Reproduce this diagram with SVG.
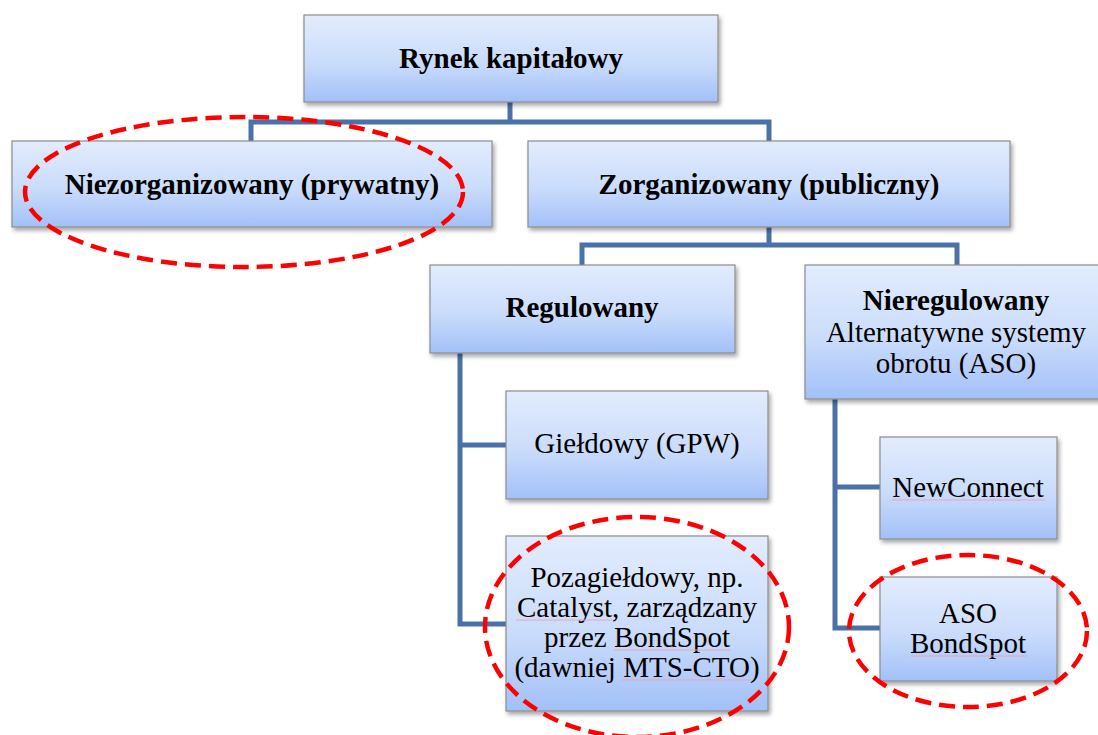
<svg xmlns="http://www.w3.org/2000/svg" width="1098" height="735" viewBox="0 0 1098 735">
<defs>
<linearGradient id="boxfill" x1="0" y1="0" x2="0" y2="1">
<stop offset="0" stop-color="#E2ECFD"/>
<stop offset="0.55" stop-color="#CADCFB"/>
<stop offset="1" stop-color="#A2C0F8"/>
</linearGradient>
<filter id="shadow" x="-10%" y="-10%" width="125%" height="130%">
<feDropShadow dx="2" dy="3" stdDeviation="2" flood-color="#000" flood-opacity="0.35"/>
</filter>
</defs>
<style>
.box{fill:url(#boxfill);stroke:#8C8C8C;stroke-width:1.2;filter:url(#shadow)}
.t{font-family:"Liberation Serif","Times New Roman",serif;font-size:29px;fill:#000;text-anchor:middle}
.b{font-weight:bold}
.conn{fill:none;stroke:#4A72A8;stroke-width:5;stroke-linejoin:miter;stroke-linecap:butt}
.hl{fill:none;stroke:#FF0000;stroke-width:4.5;stroke-dasharray:16 8}
.sp{stroke:#E8A6B4;stroke-width:1;fill:none}
</style>
<rect width="1098" height="735" fill="#FFFFFF"/>
<g id="connectors">
<path class="conn" d="M510,102 V122 M251,141 V122 H769 V141"/>
<path class="conn" d="M769,227 V245 M582,265 V245 H957 V265"/>
<path class="conn" d="M460,353 V624 H506 M460,445 H506"/>
<path class="conn" d="M835,399 V628 H880 M835,487 H880"/>
</g>
<g id="rynek">
<rect class="box" x="304" y="15" width="414" height="87"/>
<text class="t b" x="511" y="68">Rynek kapitałowy</text>
</g>
<g id="niezorganizowany">
<rect class="box" x="12" y="141" width="480" height="86"/>
<text class="t b" x="252" y="194">Niezorganizowany (prywatny)</text>
</g>
<g id="zorganizowany">
<rect class="box" x="528" y="141" width="482" height="86"/>
<text class="t b" x="769" y="194">Zorganizowany (publiczny)</text>
</g>
<g id="regulowany">
<rect class="box" x="430" y="265" width="305" height="88"/>
<text class="t b" x="582" y="317">Regulowany</text>
</g>
<g id="nieregulowany">
<rect class="box" x="805" y="265" width="305" height="134"/>
<text class="t" x="956" y="310"><tspan class="b">Nieregulowany</tspan><tspan x="956" dy="32">Alternatywne systemy</tspan><tspan x="956" dy="31">obrotu (ASO)</tspan></text>
</g>
<g id="gieldowy">
<rect class="box" x="506" y="391" width="262" height="108"/>
<text class="t" x="637" y="453">Giełdowy (GPW)</text>
</g>
<g id="pozagieldowy">
<rect class="box" x="506" y="536" width="262" height="175"/>
<text class="t" x="637" y="587">Pozagiełdowy, np.<tspan x="637" dy="30">Catalyst, zarządzany</tspan><tspan x="637" dy="30">przez BondSpot</tspan><tspan x="637" dy="30">(dawniej MTS-CTO)</tspan></text>
<path class="sp" d="M516,620 H612 M614,650 H731 M622,680 H751"/>
</g>
<g id="newconnect">
<rect class="box" x="880" y="437" width="177" height="102"/>
<text class="t" x="968" y="497">NewConnect</text>
<path class="sp" d="M892,500 H1045"/>
</g>
<g id="asobondspot">
<rect class="box" x="880" y="577" width="177" height="104"/>
<text class="t" x="968" y="623">ASO<tspan x="968" dy="30">BondSpot</tspan></text>
<path class="sp" d="M911,656 H1027"/>
</g>
<g id="highlights">
<ellipse class="hl" cx="244" cy="192" rx="219" ry="75"/>
<ellipse class="hl" cx="637" cy="627" rx="152" ry="110"/>
<ellipse class="hl" cx="968" cy="631" rx="119" ry="76"/>
</g>
</svg>
